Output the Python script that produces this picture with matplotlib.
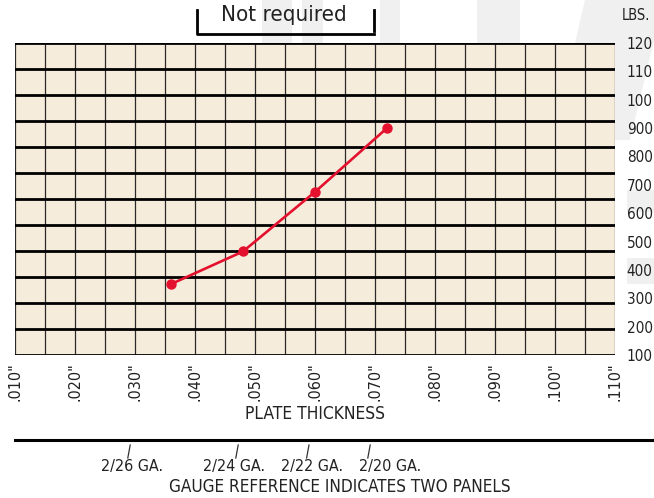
import matplotlib
matplotlib.use("Agg")
import matplotlib.pyplot as plt
from matplotlib.patches import Polygon
import numpy as np

plt.rcParams['font.family'] = ['DejaVu Sans']
plt.rcParams['font.stretch'] = 'condensed'

# data
thickness = [0.036, 0.048, 0.060, 0.072]
load_lbs = [350, 465, 675, 900]

x_ticks = [0.010, 0.020, 0.030, 0.040, 0.050, 0.060, 0.070, 0.080, 0.090, 0.100, 0.110]
x_labels = ['.010"', '.020"', '.030"', '.040"', '.050"', '.060"', '.070"',
            '.080"', '.090"', '.100"', '.110"']
y_ticks = [100, 200, 300, 400, 500, 600, 700, 800, 900, 1000, 1100, 1200]
y_labels = ['100', '200', '300', '400', '500', '600', '700', '800', '900',
            '100', '110', '120']

gauge_names = ['2/26 GA.', '2/24 GA.', '2/22 GA.', '2/20 GA.']
gauge_marks = [0.029, 0.047, 0.0588, 0.069]
gauge_text_x = [0.0295, 0.0465, 0.0595, 0.0725]

RED = '#E4112E'
FILL = '#F6ECDC'
INK = '#222222'

fig = plt.figure(figsize=(6.54, 4.98), dpi=100)

# faint watermark shapes in the background
wm = '#F0F0F0'
for pts in [
    [(262, 0), (292, 0), (292, 43), (262, 43)],
    [(302, 0), (323, 0), (323, 43), (302, 43)],
    [(380, 0), (400, 0), (400, 43), (380, 43)],
    [(477, 0), (520, 0), (520, 43), (477, 43)],
    [(585, 0), (654, 0), (654, 40), (630, 140), (615, 140), (615, 43), (575, 43)],
    [(627, 190), (654, 190), (654, 212), (627, 212)],
    [(627, 258), (654, 258), (654, 284), (627, 284)],
]:
    fig.patches.append(Polygon([(x / 654, 1 - y / 498) for x, y in pts],
                               closed=True, transform=fig.transFigure,
                               facecolor=wm, edgecolor='none', zorder=-5))

ax = fig.add_axes([15 / 654, 143 / 498, 600 / 654, 312 / 498])
ax.set_facecolor(FILL)
ax.set_xlim(0.010, 0.110)
ax.set_ylim(100, 1200)

# grid: thin verticals every .005, thick horizontals in 12 rows
for xv in np.arange(0.010, 0.1101, 0.005):
    ax.axvline(xv, color='#2a2a2a', lw=0.9, zorder=1)
for k in range(13):
    ax.axhline(100 + k * 1100 / 12, color='black', lw=2.0, zorder=2)

ax.plot(thickness, load_lbs, color=RED, lw=1.9, marker='o', ms=6.5,
        zorder=4, clip_on=False)

for s in ax.spines.values():
    s.set_visible(False)

ax.set_xticks(x_ticks)
ax.set_xticklabels(x_labels, rotation=90, fontsize=11.5, color=INK)
ax.tick_params(axis='x', length=0, pad=5)
ax.yaxis.tick_right()
ax.set_yticks(y_ticks)
ax.set_yticklabels(y_labels, fontsize=11, color=INK)
ax.tick_params(axis='y', length=0, pad=8.5)
for lab in ax.get_yticklabels():
    lab.set_horizontalalignment('left')

ax.set_xlabel('PLATE THICKNESS', fontsize=12.5, color=INK, labelpad=3)

fig.text(636 / 654, 1 - 15 / 498, 'LBS.', fontsize=10.5, color=INK,
         ha='center', va='center')

# "Not required" bracket
fig.text(284 / 654, 1 - 15 / 498, 'Not required', fontsize=16,
         color=INK, ha='center', va='center')
fig.add_artist(plt.Line2D([197 / 654, 197 / 654, 374 / 654],
                          [1 - 10 / 498, 1 - 34 / 498, 1 - 34 / 498],
                          color='black', lw=2.0, transform=fig.transFigure))
fig.add_artist(plt.Line2D([374 / 654, 374 / 654], [1 - 10 / 498, 1 - 31 / 498],
                          color='black', lw=2.0, transform=fig.transFigure))

# gauge reference strip
gx = fig.add_axes([15 / 654, 0, 600 / 654, 60 / 498])
gx.set_xlim(0.010, 0.110)
gx.set_ylim(0, 60)
gx.axis('off')
gx.plot([0.0100, 0.1165], [58, 58], color='black', lw=2.2, clip_on=False)
for xm in gauge_marks:
    gx.plot([xm - 0.0002, xm + 0.0002], [40, 53], color='#333333', lw=0.9)
for xt, name in zip(gauge_text_x, gauge_names):
    gx.text(xt, 32, name, fontsize=11.5, color=INK, ha='center', va='center')
gx.text(0.0642, 11, 'GAUGE REFERENCE INDICATES TWO PANELS', fontsize=12.3,
        color=INK, ha='center', va='center')

fig.savefig('out.png', dpi=100)
